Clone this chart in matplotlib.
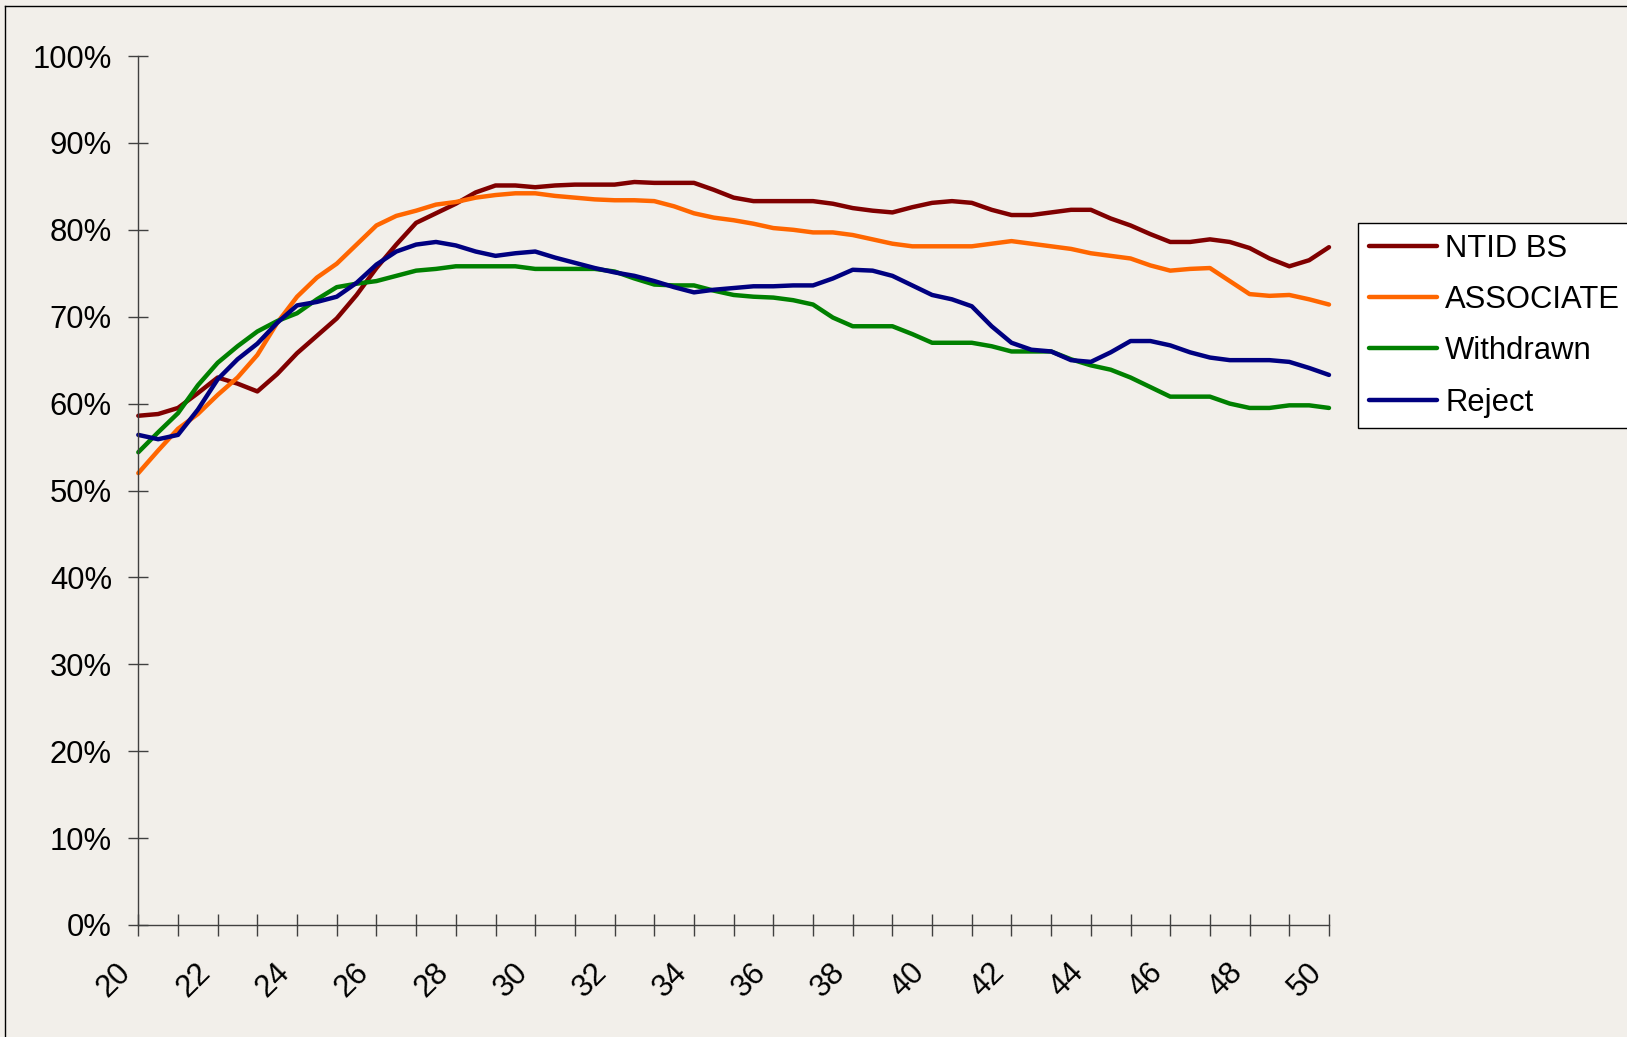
import matplotlib
matplotlib.use('Agg')
import matplotlib.pyplot as plt
from matplotlib.ticker import MultipleLocator, FuncFormatter
from matplotlib.transforms import ScaledTranslation
from matplotlib.lines import Line2D

plt.rcParams['font.family'] = ['Liberation Sans', 'DejaVu Sans']

ages = [20, 20.5, 21, 21.5, 22, 22.5, 23, 23.5, 24, 24.5, 25, 25.5, 26, 26.5, 27, 27.5,
        28, 28.5, 29, 29.5, 30, 30.5, 31, 31.5, 32, 32.5, 33, 33.5, 34, 34.5, 35, 35.5,
        36, 36.5, 37, 37.5, 38, 38.5, 39, 39.5, 40, 40.5, 41, 41.5, 42, 42.5, 43, 43.5,
        44, 44.5, 45, 45.5, 46, 46.5, 47, 47.5, 48, 48.5, 49, 49.5, 50]

ntid_bs = [58.6, 58.8, 59.5, 61.2, 63.0, 62.3, 61.4, 63.4, 65.8, 67.8, 69.8, 72.5, 75.6, 78.3, 80.8, 81.9,
           83.0, 84.3, 85.1, 85.1, 84.9, 85.1, 85.2, 85.2, 85.2, 85.5, 85.4, 85.4, 85.4, 84.6, 83.7, 83.3,
           83.3, 83.3, 83.3, 83.0, 82.5, 82.2, 82.0, 82.6, 83.1, 83.3, 83.1, 82.3, 81.7, 81.7, 82.0, 82.3,
           82.3, 81.3, 80.5, 79.5, 78.6, 78.6, 78.9, 78.6, 77.9, 76.7, 75.8, 76.5, 78.0]

associate = [52.0, 54.6, 57.1, 58.8, 61.0, 63.0, 65.6, 69.3, 72.3, 74.5, 76.1, 78.3, 80.5, 81.6, 82.2, 82.9,
             83.2, 83.7, 84.0, 84.2, 84.2, 83.9, 83.7, 83.5, 83.4, 83.4, 83.3, 82.7, 81.9, 81.4, 81.1, 80.7,
             80.2, 80.0, 79.7, 79.7, 79.4, 78.9, 78.4, 78.1, 78.1, 78.1, 78.1, 78.4, 78.7, 78.4, 78.1, 77.8,
             77.3, 77.0, 76.7, 75.9, 75.3, 75.5, 75.6, 74.1, 72.6, 72.4, 72.5, 72.0, 71.4]

withdrawn = [54.4, 56.7, 58.9, 62.1, 64.7, 66.6, 68.3, 69.5, 70.4, 72.0, 73.4, 73.8, 74.1, 74.7, 75.3, 75.5,
             75.8, 75.8, 75.8, 75.8, 75.5, 75.5, 75.5, 75.5, 75.2, 74.4, 73.7, 73.6, 73.6, 73.0, 72.5, 72.3,
             72.2, 71.9, 71.4, 69.9, 68.9, 68.9, 68.9, 68.0, 67.0, 67.0, 67.0, 66.6, 66.0, 66.0, 66.0, 65.1,
             64.4, 63.9, 63.0, 61.9, 60.8, 60.8, 60.8, 60.0, 59.5, 59.5, 59.8, 59.8, 59.5]

reject = [56.4, 55.9, 56.4, 59.3, 62.8, 65.1, 66.9, 69.3, 71.3, 71.7, 72.3, 73.9, 76.0, 77.5, 78.3, 78.6,
          78.2, 77.5, 77.0, 77.3, 77.5, 76.8, 76.2, 75.6, 75.1, 74.7, 74.1, 73.4, 72.8, 73.1, 73.3, 73.5,
          73.5, 73.6, 73.6, 74.4, 75.4, 75.3, 74.7, 73.6, 72.5, 72.0, 71.2, 68.9, 67.0, 66.2, 66.0, 65.0,
          64.8, 65.9, 67.2, 67.2, 66.7, 65.9, 65.3, 65.0, 65.0, 65.0, 64.8, 64.1, 63.3]

series_names = ["NTID BS", "ASSOCIATE", "Withdrawn", "Reject"]
series_values = [ntid_bs, associate, withdrawn, reject]
series_colors = ["#800000", "#FF6600", "#008000", "#000080"]

W, H = 1627, 1037
BG = '#F2EFEA'
AXC = '#404040'
FS = 22.3

fig = plt.figure(figsize=(W / 100, H / 100), dpi=100)
fig.patch.set_facecolor(BG)

y0, y100 = 925.0, 56.0
ax = fig.add_axes([138.3 / W, 1 - y0 / H, (1329 - 138.3) / W, (y0 - y100) / H])
ax.set_facecolor(BG)
ax.patch.set_alpha(0)

handles = []
for vals, name, col in zip(series_values, series_names, series_colors):
    ln, = ax.plot(ages, vals, color=col, lw=3.2, label=name,
                  solid_joinstyle='round', solid_capstyle='round', clip_on=False)
    handles.append(ln)

ax.set_xlim(20, 50)
ax.set_ylim(0, 100)
for s in ['top', 'right']:
    ax.spines[s].set_visible(False)
for s in ['left', 'bottom']:
    ax.spines[s].set_color(AXC)
    ax.spines[s].set_linewidth(1)

ax.yaxis.set_major_locator(MultipleLocator(10))
ax.yaxis.set_major_formatter(FuncFormatter(lambda v, p: f"{v:.0f}%"))
ax.xaxis.set_major_locator(MultipleLocator(2))
ax.xaxis.set_minor_locator(MultipleLocator(1))
ax.xaxis.set_major_formatter(FuncFormatter(lambda v, p: f"{v:.0f}"))

ax.tick_params(axis='y', direction='inout', length=14, width=1, color=AXC,
               labelsize=FS, labelcolor='black', pad=12)
ax.tick_params(axis='x', which='both', direction='inout', length=16, width=1, color=AXC)
ax.tick_params(axis='x', which='major', labelsize=FS, labelcolor='black', pad=31.5)

offset = ScaledTranslation(-24 / 100, 0, fig.dpi_scale_trans)
for lab in ax.get_xticklabels():
    lab.set_rotation(45)
    lab.set_rotation_mode('anchor')
    lab.set_horizontalalignment('center')
    lab.set_verticalalignment('center')
    lab.set_transform(lab.get_transform() + offset)

leg = fig.legend(handles, series_names, loc='upper left',
                 bbox_to_anchor=(1358.3 / W, 1 - 222.7 / H), bbox_transform=fig.transFigure,
                 fontsize=FS, frameon=True, fancybox=False, edgecolor='black',
                 facecolor='white', framealpha=1, handlelength=2.2, handletextpad=0.25,
                 labelspacing=0.69, borderpad=0.35, borderaxespad=0)
leg.get_frame().set_linewidth(1.0)

# outer chart-area border (left and top edges visible)
fig.add_artist(Line2D([4.5 / W, 4.5 / W], [0, 1 - 5.5 / H], transform=fig.transFigure,
                      color='black', lw=1))
fig.add_artist(Line2D([4.5 / W, 1], [1 - 5.5 / H, 1 - 5.5 / H], transform=fig.transFigure,
                      color='black', lw=1))

fig.savefig('out.png', dpi=100, facecolor=BG)
